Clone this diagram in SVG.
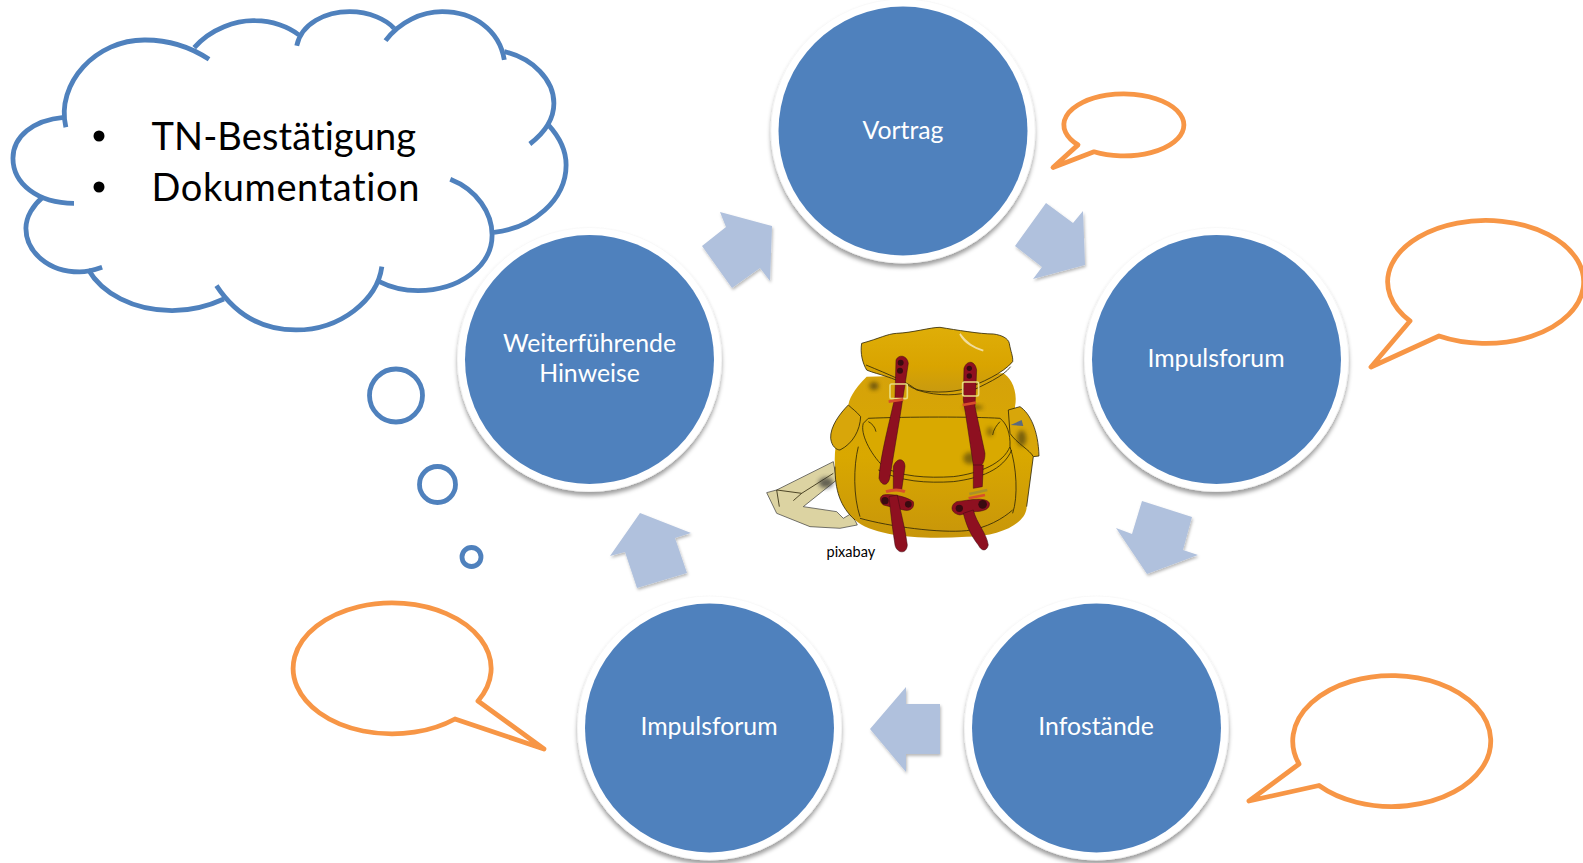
<svg xmlns="http://www.w3.org/2000/svg" width="1583" height="863" viewBox="0 0 1583 863">
<style>
text{font-variant-ligatures:none}
.ring{fill:#fff;stroke:#f5f5f5;stroke-width:.6;filter:url(#sh)}
.disc{fill:#4f81bd}
.lbl{font-family:Lato,"Liberation Sans",sans-serif;font-size:24.8px;fill:#fff;text-anchor:middle}
.arr{fill:#b0c1dd;filter:url(#sh2)}
.bub{fill:#fff;stroke:#f79646;stroke-width:4.8;stroke-linejoin:round}
.cl{fill:none;stroke:#4f81bd;stroke-width:4.8;vector-effect:non-scaling-stroke}
.th{fill:#fff;stroke:#4f81bd;stroke-width:4.8}
.big{font-family:Lato,"Liberation Sans",sans-serif;font-size:38px;fill:#000}
.o{stroke:#2a2208;stroke-width:2.4;stroke-linejoin:round}
.l{fill:none;stroke:#2a2208;stroke-width:2.4}
.r{fill:#8e1020;stroke:#3a0a10;stroke-width:1.5}
.d{fill:#3a0a10}
</style>
<defs>
<filter id="sh" x="-10%" y="-10%" width="120%" height="120%"><feDropShadow dx="0" dy="4" stdDeviation="2.200" flood-color="#000" flood-opacity=".38"/></filter>
<filter id="sh2" x="-10%" y="-10%" width="120%" height="120%"><feDropShadow dx="1" dy="2" stdDeviation="1.500" flood-color="#000" flood-opacity=".28"/></filter>
<filter id="b" x="-50%" y="-50%" width="200%" height="200%"><feGaussianBlur stdDeviation="7"/></filter>
<linearGradient id="fl" x1="0" y1="0" x2="0" y2="1"><stop offset="0" stop-color="#dfae08"/><stop offset=".6" stop-color="#d9a400"/><stop offset="1" stop-color="#c89a10"/></linearGradient>
<linearGradient id="bd" x1="0" y1="0" x2="0" y2="1"><stop offset="0" stop-color="#d5a20a"/><stop offset=".5" stop-color="#d9a800"/><stop offset="1" stop-color="#c8960a"/></linearGradient>
</defs>

<g id="connectors">
<polygon class="arr" points="720,212 772,226 770,281 760,268 732,288 702,246 726,227"/>
<polygon class="arr" points="1046,203 1073,223 1083,211 1085,265 1033,279 1042,267 1015,246"/>
<polygon class="arr" points="1142,501 1192,517 1183,550 1198,555 1147,574 1116,528 1132,534"/>
<polygon class="arr" points="870,729 906,687 906,704 940,704 940,754 906,754 906,772"/>
<polygon class="arr" points="610,556 640,513 691,533 675,538 687,573 637,588 625,552"/>
</g>

<g id="cloud">
<g transform="scale(.37 .3333)">
<path d="M178,382C150,250 260,118 393,120C460,120 520,145 565,178L525,143C570,85 640,60 690,62C735,62 780,80 808,105L802,137C815,70 880,35 945,35C1000,35 1045,60 1065,85L1042,122C1080,65 1140,35 1195,35C1280,35 1350,90 1363,180L1363,155C1440,175 1497,240 1497,310C1497,360 1470,400 1432,432L1482,375C1515,415 1530,455 1530,495C1530,600 1440,685 1335,697L1330,705C1330,640 1290,570 1217,538L1330,705C1330,800 1240,872 1130,872C1090,872 1055,862 1025,845L1032,800C1020,900 920,990 800,990C715,990 640,950 585,857L605,897C560,920 510,932 465,932C360,932 275,880 238,808L276,802C250,812 230,816 215,816C130,816 70,755 70,685C70,650 90,615 115,592L200,610C100,610 35,550 35,475C35,410 90,360 172,352Z" fill="#fff"/>
<path class="cl" d="M178,382C150,250 260,118 393,120C460,120 520,145 565,178"/>
<path class="cl" d="M525,143C570,85 640,60 690,62C735,62 780,80 808,105"/>
<path class="cl" d="M802,137C815,70 880,35 945,35C1000,35 1045,60 1065,85"/>
<path class="cl" d="M1042,122C1080,65 1140,35 1195,35C1280,35 1350,90 1363,180"/>
<path class="cl" d="M1363,155C1440,175 1497,240 1497,310C1497,360 1470,400 1432,432"/>
<path class="cl" d="M1482,375C1515,415 1530,455 1530,495C1530,600 1440,685 1335,697"/>
<path class="cl" d="M1217,538C1290,570 1330,640 1330,705C1330,800 1240,872 1130,872C1090,872 1055,862 1025,845"/>
<path class="cl" d="M1032,800C1020,900 920,990 800,990C715,990 640,950 585,857"/>
<path class="cl" d="M605,897C560,920 510,932 465,932C360,932 275,880 238,808"/>
<path class="cl" d="M276,802C250,812 230,816 215,816C130,816 70,755 70,685C70,650 90,615 115,592"/>
<path class="cl" d="M200,610C100,610 35,550 35,475C35,410 90,360 172,352"/>
</g>
<circle cx="99" cy="136" r="5.500"/><circle cx="99" cy="187" r="5.500"/>
<text class="big" x="151.500" y="150" letter-spacing=".1">TN-Bestätigung</text>
<text class="big" x="151.500" y="201" letter-spacing=".6">Dokumentation</text>
</g>

<g id="thought-bubbles">
<circle class="th" cx="396" cy="395.500" r="26.500"/>
<circle class="th" cx="437.500" cy="484.500" r="18"/>
<circle class="th" cx="471.500" cy="557" r="9.500"/>
</g>

<g id="node-vortrag"><circle class="ring" cx="903" cy="131" r="132"/><circle class="disc" cx="903" cy="131" r="124.500"/><text class="lbl" x="903" y="139">Vortrag</text></g>
<g id="node-impulsforum-1"><circle class="ring" cx="1216.500" cy="359.500" r="132"/><circle class="disc" cx="1216.500" cy="359.500" r="124.500"/><text class="lbl" x="1216" y="367">Impulsforum</text></g>
<g id="node-infostaende"><circle class="ring" cx="1096.500" cy="728" r="132"/><circle class="disc" cx="1096.500" cy="728" r="124.500"/><text class="lbl" x="1096" y="735">Infostände</text></g>
<g id="node-impulsforum-2"><circle class="ring" cx="709.500" cy="728" r="132"/><circle class="disc" cx="709.500" cy="728" r="124.500"/><text class="lbl" x="709" y="735">Impulsforum</text></g>
<g id="node-weiterfuehrende"><circle class="ring" cx="589.500" cy="359.500" r="132"/><circle class="disc" cx="589.500" cy="359.500" r="124.500"/><text class="lbl" x="589.500" y="352">Weiterführende</text><text class="lbl" x="589.500" y="382">Hinweise</text></g>

<g id="speech-bubbles">
<path class="bub" d="M1094,151.800A60 31 0 1 0 1078,144.900L1053,167.500Z"/>
<path class="bub" d="M1439,336A98 61.500 0 1 0 1410,321L1371,367Z"/>
<path class="bub" d="M1319,785.500A99 65.500 0 1 0 1299,764L1249,801Z"/>
<path class="bub" d="M478,701A99 65.500 0 1 0 455,719L544,749Z"/>
</g>

<g id="backpack" transform="translate(740 310) scale(.3333)">
<path d="M80,548L110,540L280,455L290,510L190,590L290,605L310,625L335,610L352,645L300,655L210,650L110,610Z" fill="#dcd3a2" stroke="#333" stroke-width="2" stroke-linejoin="round"/>
<path class="l" d="M110,540L118,590M110,540L185,550L160,572M185,550L280,490"/>
<ellipse cx="258" cy="518" rx="22" ry="16" fill="#333" filter="url(#b)" opacity=".7"/>
<path d="M380,200C340,240 325,270 325,290C300,350 280,400 285,470C285,540 300,590 345,630C400,680 550,690 680,680C780,680 860,640 860,590L880,440C880,400 830,370 825,290C835,240 810,200 790,190Z" fill="url(#bd)"/>
<path class="l" d="M285,470C285,540 300,590 345,630M880,440L860,590"/>
<path class="l" d="M355,410C340,470 340,560 360,620M810,410C830,470 835,560 818,610M360,625C450,650 600,670 680,662C740,655 790,625 818,600"/>
<path d="M385,325C500,320 700,320 780,325C800,340 812,370 810,410C790,460 720,490 640,500C560,505 480,500 430,470C390,430 360,370 370,340Z" fill="#d9a900" class="o"/>
<path class="l" d="M415,480C480,515 560,520 640,515C720,505 790,480 815,420M385,335C395,340 405,350 408,365M780,335C770,345 760,360 758,375"/>
<ellipse cx="402" cy="228" rx="14" ry="12" fill="#4a3a08" filter="url(#b)" opacity=".7"/>
<ellipse cx="700" cy="292" rx="30" ry="7" fill="#4a3a08" filter="url(#b)" opacity=".6"/>
<ellipse cx="690" cy="445" rx="20" ry="18" fill="#4a3a08" filter="url(#b)" opacity=".6"/>
<ellipse cx="750" cy="365" rx="10" ry="14" fill="#4a3a08" filter="url(#b)" opacity=".5"/>
<path d="M325,285C300,310 270,350 272,385C275,410 290,420 300,420C340,400 360,360 362,320C350,305 335,295 325,285Z" fill="#d8a60a" class="o"/>
<path d="M805,300L840,290C870,310 895,360 897,438L880,440C870,420 830,400 810,370Z" fill="#d8a60a" class="o"/>
<ellipse cx="845" cy="385" rx="14" ry="24" fill="#3a3008" filter="url(#b)" opacity=".6"/>
<path d="M812,345L845,330L850,348Z" fill="#5a6a80"/>
<path d="M365,100C420,85 440,72 470,70C520,68 570,52 600,52C650,60 720,72 760,72C785,75 805,85 808,100C812,125 820,140 818,155C790,190 720,220 680,235C630,250 560,250 520,235C460,200 400,190 380,180C368,160 360,130 365,100Z" fill="url(#fl)" class="o"/>
<path class="l" d="M378,165C450,195 500,215 530,240C600,262 660,255 690,245C730,225 790,200 812,170"/>
<path d="M660,72C680,100 705,115 730,122C700,112 675,100 660,72Z" fill="#f5e6b8" stroke="#f5e6b8" stroke-width="5" opacity=".85"/>
<path class="r" d="M468,150C475,132 502,135 505,160L480,320L450,500C445,530 425,530 417,505C420,440 450,330 465,260Z"/>
<path class="r" d="M672,175C680,150 705,150 710,180L705,290L735,430C735,470 715,475 700,465C690,400 680,330 670,270Z"/>
<path class="r" d="M700,465L730,465L727,530L700,535Z"/>
<path class="r" d="M460,470C470,440 495,445 495,470L485,540L460,540Z"/>
<circle class="d" cx="482" cy="158" r="9"/><circle class="d" cx="480" cy="182" r="9"/><circle class="d" cx="688" cy="175" r="8"/><circle class="d" cx="688" cy="198" r="8"/>
<rect x="450" y="222" width="52" height="44" rx="5" fill="none" stroke="#e8dc80" stroke-width="5"/>
<rect x="668" y="216" width="48" height="42" rx="5" fill="none" stroke="#e8dc80" stroke-width="5"/>
<path d="M446,275L490,268" stroke="#d8502a" stroke-width="8"/><path d="M668,285L708,278" stroke="#d8502a" stroke-width="8"/>
<path class="r" d="M430,555C455,550 500,560 520,575C525,595 510,605 490,600L430,585C418,575 418,560 430,555Z"/>
<path class="r" d="M447,560L472,555C480,600 495,650 502,705C500,735 470,730 465,705C458,660 452,610 447,560Z"/>
<circle class="d" cx="435" cy="572" r="11"/><circle class="d" cx="505" cy="583" r="10"/>
<path class="r" d="M650,575C690,570 735,560 748,578C752,598 730,605 700,605L660,615C630,610 630,585 650,575Z"/>
<path class="r" d="M670,610L700,600C710,640 740,670 745,705C740,725 725,725 715,705C695,680 680,650 670,610Z"/>
<circle class="d" cx="658" cy="595" r="11"/><circle class="d" cx="728" cy="583" r="13"/>
<path d="M438,545Q470,535 495,545" stroke="#d8502a" stroke-width="9" fill="none"/><path d="M688,552L742,540" stroke="#a8902a" stroke-width="8"/><path d="M686,565L735,555" stroke="#d8502a" stroke-width="8"/>
</g>
<text id="credit" x="826.500" y="557" font-family="Lato,'Liberation Sans',sans-serif" font-size="14.500px" fill="#000">pixabay</text>
</svg>
